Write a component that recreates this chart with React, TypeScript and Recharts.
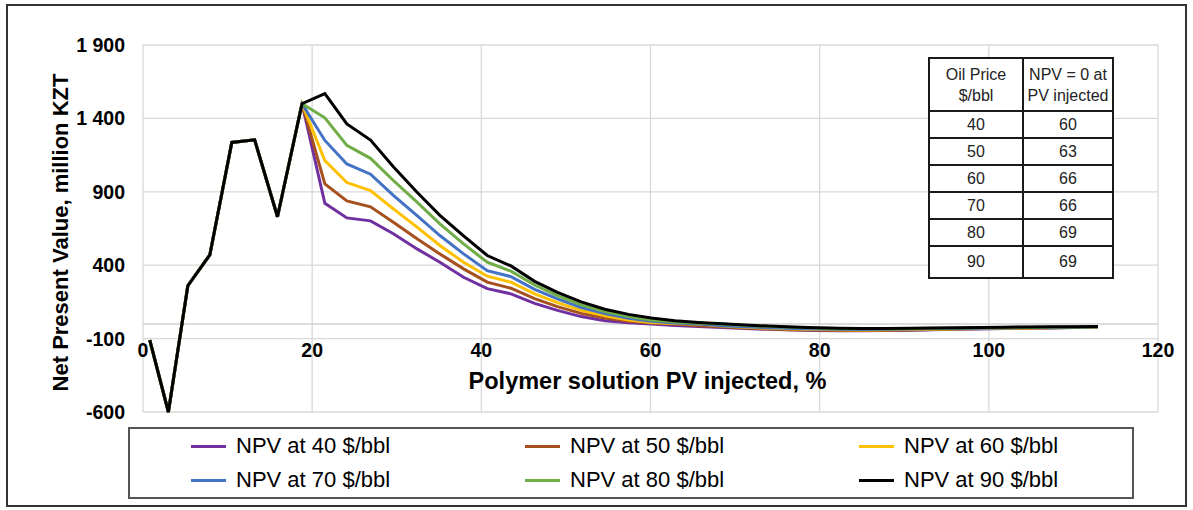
import React from "react";
import {
  CartesianGrid,
  Legend,
  Line,
  LineChart,
  ReferenceLine,
  XAxis,
  YAxis,
} from "recharts";

const FONT = '"Liberation Sans", Arial, Helvetica, sans-serif';

// polymer solution PV injected, %
const PV_INJECTED = [
  0.8, 3.0, 5.3, 7.9, 10.5, 13.2, 15.9, 18.8, 21.5, 24.1, 26.9, 29.6, 32.4,
  35.1, 37.9, 40.7, 43.5, 46.3, 49.0, 51.8, 54.6, 57.4, 60.1, 62.9, 65.7, 68.5,
  71.2, 74.0, 76.8, 79.6, 82.3, 85.1, 87.9, 90.7, 93.4, 96.2, 99.0, 101.8,
  104.5, 107.3, 110.1, 112.9,
];

// waterflood part, same for every oil price
const NPV_COMMON = [-110, -600, 260, 470, 1236, 1254, 730, 1500];

// polymer part, one per oil price
const NPV_40 = [
  822, 722, 702, 614, 511, 420, 318, 240, 205, 140, 92, 50, 22, 8, 0, -10, -18,
  -25, -31, -37, -41, -44, -46, -46, -45, -43, -40, -37, -34, -31, -29, -27,
  -25, -24,
];
const NPV_50 = [
  954, 838, 798, 693, 580, 477, 375, 285, 243, 172, 118, 72, 40, 18, 6, 0, -12,
  -20, -28, -34, -39, -42, -44, -44, -43, -41, -38, -35, -32, -30, -28, -26,
  -24, -23,
];
const NPV_60 = [
  1113, 963, 909, 784, 659, 534, 420, 325, 284, 205, 145, 92, 55, 27, 10, 3, -1,
  -15, -23, -29, -34, -38, -40, -41, -40, -38, -36, -33, -31, -29, -27, -25,
  -23, -22,
];
const NPV_70 = [
  1250, 1090, 1020, 875, 738, 602, 477, 363, 322, 235, 170, 112, 70, 38, 18, 6,
  0, -12, -20, -26, -31, -35, -37, -38, -37, -35, -33, -31, -29, -27, -25, -24,
  -22, -21,
];
const NPV_80 = [
  1404, 1216, 1128, 977, 829, 682, 545, 420, 359, 265, 193, 130, 85, 50, 27, 13,
  4, -1, -10, -17, -23, -28, -31, -33, -33, -32, -30, -28, -26, -24, -23, -22,
  -21, -20,
];
const NPV_90 = [
  1569, 1362, 1252, 1070, 897, 740, 600, 466, 395, 290, 215, 150, 100, 65, 40,
  22, 10, 1, -8, -15, -21, -26, -29, -31, -31, -30, -28, -26, -24, -22, -21,
  -20, -19, -18,
];

const OIL_PRICES = [40, 50, 60, 70, 80, 90];
const BREAKEVEN_PV = [60, 63, 66, 66, 69, 69];

const SERIES = [
  { key: "npv40", name: "NPV at 40 $/bbl", color: "#7030A0", tail: NPV_40 },
  { key: "npv50", name: "NPV at 50 $/bbl", color: "#A5501E", tail: NPV_50 },
  { key: "npv60", name: "NPV at 60 $/bbl", color: "#FFC000", tail: NPV_60 },
  { key: "npv70", name: "NPV at 70 $/bbl", color: "#4472C4", tail: NPV_70 },
  { key: "npv80", name: "NPV at 80 $/bbl", color: "#70AD47", tail: NPV_80 },
  { key: "npv90", name: "NPV at 90 $/bbl", color: "#000000", tail: NPV_90 },
];

const X_TICKS = [0, 20, 40, 60, 80, 100, 120];
const Y_TICKS = [-600, -100, 400, 900, 1400, 1900];

const data = PV_INJECTED.map((pv, i) => {
  const row: Record<string, number> = { pv };
  SERIES.forEach((s) => {
    row[s.key] =
      i < NPV_COMMON.length ? NPV_COMMON[i] : s.tail[i - NPV_COMMON.length];
  });
  return row;
});

const W = 1193;
const H = 510;
const PLOT_TOP = 45;
const PLOT_BOTTOM = 412;
const PLOT_LEFT = 143;
const PLOT_RIGHT = 1158;
const Y_AXIS_W = 60;
const X_AXIS_H = 30;
// distance from plot bottom up to the NPV = 0 line
const ZERO_SHIFT =
  ((0 - Y_TICKS[0]) / (Y_TICKS[Y_TICKS.length - 1] - Y_TICKS[0])) *
  (PLOT_BOTTOM - PLOT_TOP);

const fmtThousands = (v: number) => {
  const s = String(Math.abs(v));
  const out = s.length > 3 ? s.slice(0, -3) + " " + s.slice(-3) : s;
  return v < 0 ? "-" + out : out;
};

const XTick = (props: any) => {
  const { x, y, payload } = props;
  return (
    <text
      x={x}
      y={y - ZERO_SHIFT + 26}
      dy="0.36em"
      textAnchor="middle"
      fontFamily={FONT}
      fontSize={19.5}
      fontWeight={700}
      fill="#000"
    >
      {payload.value}
    </text>
  );
};

const LegendBox = (props: any) => {
  const items = props.payload || [];
  return (
    <div
      style={{
        display: "grid",
        gridTemplateColumns: "repeat(3, 1fr)",
        gridAutoRows: 34,
        width: "100%",
        height: "100%",
        boxSizing: "border-box",
        border: "2px solid #555",
        fontFamily: FONT,
        fontSize: 22,
        color: "#000",
      }}
    >
      {items.map((it: any) => (
        <div
          key={it.value}
          style={{ display: "flex", alignItems: "center", paddingLeft: 61 }}
        >
          <span
            style={{
              display: "inline-block",
              width: 35,
              height: 3,
              background: it.color,
              marginRight: 10,
            }}
          />
          {it.value}
        </div>
      ))}
    </div>
  );
};

const cell: React.CSSProperties = {
  border: "2px solid #1a1a1a",
  textAlign: "center",
  padding: 0,
};

export default function App() {
  return (
    <div
      style={{
        position: "absolute",
        left: 0,
        top: 0,
        width: W,
        height: H,
        background: "#fff",
        fontFamily: FONT,
      }}
    >
      <div
        style={{
          position: "absolute",
          left: 6,
          top: 4,
          width: 1181,
          height: 503,
          border: "2px solid #333",
          boxSizing: "border-box",
        }}
      />
      <div style={{ position: "absolute", left: 0, top: 0 }}>
        <LineChart
          width={W}
          height={H}
          data={data}
          margin={{
            top: PLOT_TOP,
            right: W - PLOT_RIGHT,
            bottom: H - PLOT_BOTTOM - X_AXIS_H,
            left: PLOT_LEFT - Y_AXIS_W,
          }}
        >
          <CartesianGrid stroke="#d9d9d9" strokeWidth={1.3} />
          <XAxis
            dataKey="pv"
            type="number"
            domain={[0, 120]}
            ticks={X_TICKS}
            height={X_AXIS_H}
            axisLine={false}
            tickLine={false}
            tickSize={0}
            tickMargin={0}
            tick={<XTick />}
            label={{
              content: (p: any) => {
                const vb = p.viewBox || {};
                return (
                  <text
                    x={vb.x + vb.width / 2 - 3}
                    y={vb.y - 31}
                    dy="0.36em"
                    textAnchor="middle"
                    fontFamily={FONT}
                    fontSize={23.5}
                    fontWeight={700}
                    fill="#000"
                  >
                    Polymer solution PV injected, %
                  </text>
                );
              },
            }}
          />
          <YAxis
            type="number"
            domain={[Y_TICKS[0], Y_TICKS[Y_TICKS.length - 1]]}
            ticks={Y_TICKS}
            width={Y_AXIS_W}
            axisLine={false}
            tickLine={false}
            tickSize={0}
            tickMargin={18}
            tickFormatter={fmtThousands}
            tick={{
              fontFamily: FONT,
              fontSize: 19.5,
              fontWeight: 700,
              fill: "#000",
            }}
            label={{
              content: (p: any) => {
                const vb = p.viewBox || {};
                const cx = vb.x - 23;
                const cy = vb.y + vb.height / 2 + 4;
                return (
                  <text
                    x={cx}
                    y={cy}
                    dy="0.36em"
                    transform={`rotate(-90 ${cx} ${cy})`}
                    textAnchor="middle"
                    fontFamily={FONT}
                    fontSize={22}
                    fontWeight={700}
                    fill="#000"
                  >
                    Net Present Value, million KZT
                  </text>
                );
              },
            }}
          />
          <ReferenceLine y={0} stroke="#d0d0d0" strokeWidth={1.5} />
          <Legend
            layout="vertical"
            align="center"
            verticalAlign="middle"
            content={<LegendBox />}
            wrapperStyle={{
              left: 128,
              top: 427,
              width: 1006,
              height: 72,
              margin: 0,
            }}
          />
          {SERIES.map((s) => (
            <Line
              key={s.key}
              dataKey={s.key}
              name={s.name}
              stroke={s.color}
              strokeWidth={3}
              dot={false}
              activeDot={false}
              isAnimationActive={false}
            />
          ))}
        </LineChart>
      </div>
      <table
        style={{
          position: "absolute",
          left: 928,
          top: 57,
          width: 186,
          borderCollapse: "collapse",
          background: "#fff",
          fontFamily: FONT,
          fontSize: 16,
          color: "#222",
        }}
      >
        <thead>
          <tr style={{ height: 53 }}>
            <th style={{ ...cell, fontWeight: 400, lineHeight: "21px", width: 92 }}>
              Oil Price
              <br />
              $/bbl
            </th>
            <th style={{ ...cell, fontWeight: 400, lineHeight: "21px" }}>
              NPV = 0 at
              <br />
              PV injected
            </th>
          </tr>
        </thead>
        <tbody>
          {OIL_PRICES.map((p, i) => (
            <tr key={p} style={{ height: i === OIL_PRICES.length - 1 ? 32 : 27 }}>
              <td style={cell}>{p}</td>
              <td style={cell}>{BREAKEVEN_PV[i]}</td>
            </tr>
          ))}
        </tbody>
      </table>
    </div>
  );
}
